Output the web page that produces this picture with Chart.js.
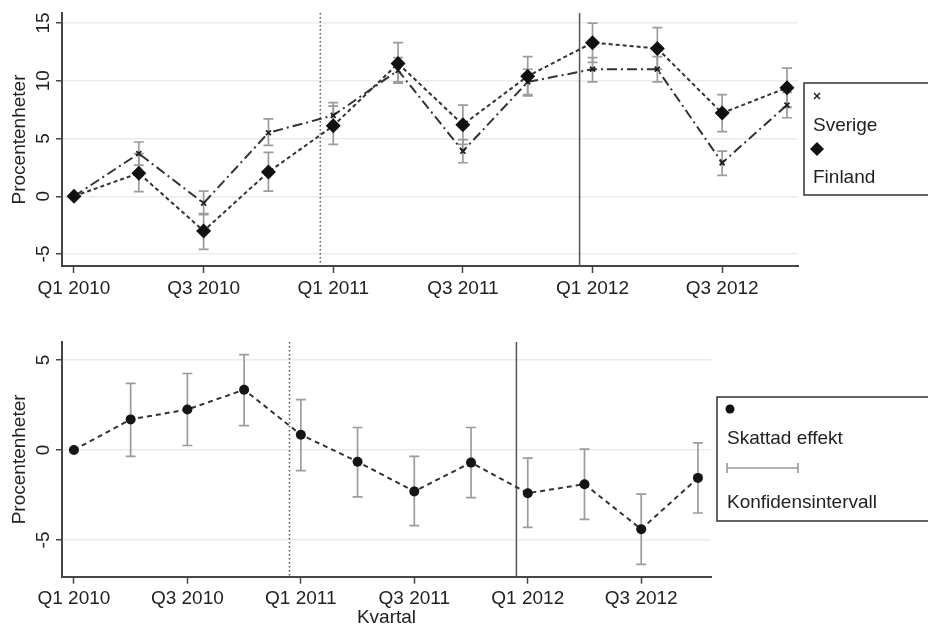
<!DOCTYPE html>
<html lang="sv">
<head>
    <meta charset="UTF-8">
    <meta name="viewport" content="width=device-width, initial-scale=1.0">
    <title>Procentenheter per kvartal</title>
    <script src="https://cdn.jsdelivr.net/npm/chart.js"></script>
    <style>
        body { margin: 0; background: #fff; }
        .wrap { position: relative; width: 928px; height: 625px; overflow: hidden; }
        #topChart { position: absolute; left: 0; top: 0; }
        #bottomChart { position: absolute; left: 0; top: 320px; }
    </style>
</head>
<body>
    <div class="wrap">
        <canvas id="topChart" width="928" height="320"></canvas>
        <canvas id="bottomChart" width="928" height="305"></canvas>
    </div>

    <script>
        const quarters = ['Q1 2010', 'Q2 2010', 'Q3 2010', 'Q4 2010', 'Q1 2011', 'Q2 2011',
                          'Q3 2011', 'Q4 2011', 'Q1 2012', 'Q2 2012', 'Q3 2012', 'Q4 2012'];
        const labelledQuarters = [0, 2, 4, 6, 8, 10];

        const sverige   = [0, 3.7, -0.6, 5.5, 7.0, 10.9, 3.9, 9.9, 11.0, 11.0, 2.9, 7.9];
        const sverigeLo = [null, 2.7, -1.6, 4.4, 5.9, 9.8, 2.9, 8.8, 9.9, 9.9, 1.8, 6.8];
        const sverigeHi = [null, 4.7, 0.45, 6.7, 8.1, 12.0, 4.9, 11.0, 12.0, 12.1, 3.9, 9.0];

        const finland   = [0, 2.0, -3.0, 2.1, 6.1, 11.5, 6.2, 10.4, 13.3, 12.8, 7.2, 9.4];
        const finlandLo = [null, 0.4, -4.6, 0.45, 4.5, 9.9, 4.5, 8.7, 11.6, 11.0, 5.6, 7.7];
        const finlandHi = [null, 3.7, -1.5, 3.8, 7.8, 13.3, 7.9, 12.1, 15.0, 14.6, 8.8, 11.1];

        const effekt   = [0, 1.7, 2.25, 3.35, 0.85, -0.65, -2.3, -0.7, -2.4, -1.9, -4.4, -1.55];
        const effektLo = [null, -0.35, 0.25, 1.35, -1.15, -2.6, -4.2, -2.65, -4.3, -3.85, -6.35, -3.5];
        const effektHi = [null, 3.7, 4.25, 5.3, 2.8, 1.25, -0.35, 1.25, -0.45, 0.05, -2.45, 0.4];

        const topYTicks = [-5, 0, 5, 10, 15];
        const bottomYTicks = [-5, 0, 5];
        const dottedLineAt = 3.8;   // Q4 2010 / Q1 2011
        const solidLineAt = 7.8;    // Q4 2011 / Q1 2012

        const FONT = "'Liberation Sans', Arial, sans-serif";
        const FONT_SIZE = 19;
        const TEXT = '#222';
        const AXIS = '#454545';
        const CI_GREY = '#9c9c9c';

        const toPoints = arr => arr.map((v, i) => ({ x: i, y: v }));

        // confidence intervals as capped vertical bars
        const errorBars = {
            id: 'errorBars',
            beforeDatasetsDraw(chart) {
                const { ctx, scales: { x, y } } = chart;
                ctx.save();
                ctx.strokeStyle = CI_GREY;
                ctx.lineWidth = 1.7;
                chart.data.datasets.forEach(ds => {
                    if (!ds.lo) return;
                    ds.lo.forEach((lo, i) => {
                        if (lo == null) return;
                        const px = x.getPixelForValue(i);
                        const top = y.getPixelForValue(ds.hi[i]);
                        const bot = y.getPixelForValue(lo);
                        ctx.beginPath();
                        ctx.moveTo(px, top); ctx.lineTo(px, bot);
                        ctx.moveTo(px - 5, top); ctx.lineTo(px + 5, top);
                        ctx.moveTo(px - 5, bot); ctx.lineTo(px + 5, bot);
                        ctx.stroke();
                    });
                });
                ctx.restore();
            }
        };

        // period markers
        const periodLines = {
            id: 'periodLines',
            beforeDatasetsDraw(chart) {
                const { ctx, chartArea: a, scales: { x } } = chart;
                ctx.save();
                ctx.strokeStyle = '#555';
                ctx.lineWidth = 1.5;
                ctx.setLineDash([1.5, 2.5]);
                let px = x.getPixelForValue(dottedLineAt);
                ctx.beginPath(); ctx.moveTo(px, a.top); ctx.lineTo(px, a.bottom); ctx.stroke();
                ctx.setLineDash([]);
                px = x.getPixelForValue(solidLineAt);
                ctx.beginPath(); ctx.moveTo(px, a.top); ctx.lineTo(px, a.bottom); ctx.stroke();
                ctx.restore();
            }
        };

        // rotated y tick labels, axis titles
        const axisText = {
            id: 'axisText',
            afterDraw(chart, args, opts) {
                const { ctx, chartArea: a, scales: { y } } = chart;
                ctx.save();
                ctx.fillStyle = TEXT;
                ctx.font = FONT_SIZE + 'px ' + FONT;
                ctx.textAlign = 'center';
                ctx.textBaseline = 'middle';
                y.ticks.forEach(t => {
                    ctx.save();
                    ctx.translate(44, y.getPixelForValue(t.value));
                    ctx.rotate(-Math.PI / 2);
                    ctx.fillText(String(t.value), 0, 0);
                    ctx.restore();
                });
                ctx.save();
                ctx.translate(20, (a.top + a.bottom) / 2);
                ctx.rotate(-Math.PI / 2);
                ctx.fillText('Procentenheter', 0, 0);
                ctx.restore();
                if (opts.xTitle) {
                    ctx.textBaseline = 'alphabetic';
                    ctx.fillText(opts.xTitle, (a.left + a.right) / 2, opts.xTitleY);
                }
                ctx.restore();
            }
        };

        function drawDiamond(ctx, cx, cy, r) {
            ctx.beginPath();
            ctx.moveTo(cx, cy - r); ctx.lineTo(cx + r, cy);
            ctx.lineTo(cx, cy + r); ctx.lineTo(cx - r, cy);
            ctx.closePath(); ctx.fill();
        }

        // legend boxes to the right of each plot
        const sideLegend = {
            id: 'sideLegend',
            afterDraw(chart, args, opts) {
                const ctx = chart.ctx;
                const b = opts.box;
                ctx.save();
                ctx.strokeStyle = '#333';
                ctx.lineWidth = 1.5;
                ctx.strokeRect(b[0], b[1], b[2], b[3]);
                ctx.fillStyle = TEXT;
                ctx.font = FONT_SIZE + 'px ' + FONT;
                ctx.textAlign = 'left';
                ctx.textBaseline = 'middle';
                opts.items.forEach(it => {
                    ctx.save();
                    if (it.kind === 'cross') {
                        ctx.strokeStyle = '#222'; ctx.lineWidth = 1.5;
                        ctx.beginPath();
                        ctx.moveTo(it.mx - 3, it.my - 3); ctx.lineTo(it.mx + 3, it.my + 3);
                        ctx.moveTo(it.mx - 3, it.my + 3); ctx.lineTo(it.mx + 3, it.my - 3);
                        ctx.stroke();
                    } else if (it.kind === 'diamond') {
                        ctx.fillStyle = '#111';
                        drawDiamond(ctx, it.mx, it.my, 7);
                    } else if (it.kind === 'dot') {
                        ctx.fillStyle = '#111';
                        ctx.beginPath(); ctx.arc(it.mx, it.my, 4.5, 0, Math.PI * 2); ctx.fill();
                    } else if (it.kind === 'cap') {
                        ctx.strokeStyle = CI_GREY; ctx.lineWidth = 1.7;
                        ctx.beginPath();
                        ctx.moveTo(it.mx, it.my); ctx.lineTo(it.mx2, it.my);
                        ctx.moveTo(it.mx, it.my - 5); ctx.lineTo(it.mx, it.my + 5);
                        ctx.moveTo(it.mx2, it.my - 5); ctx.lineTo(it.mx2, it.my + 5);
                        ctx.stroke();
                    }
                    ctx.restore();
                    ctx.fillText(it.label, it.tx, it.ty);
                });
                ctx.restore();
            }
        };

        function makeChart(id, cfg) {
            return new Chart(document.getElementById(id), {
                type: 'line',
                data: { datasets: cfg.datasets },
                options: {
                    responsive: false,
                    animation: false,
                    events: [],
                    devicePixelRatio: 1,
                    layout: { padding: { left: 0, top: cfg.padTop, right: cfg.padRight, bottom: 0 } },
                    scales: {
                        x: {
                            type: 'linear',
                            min: cfg.xMin,
                            max: cfg.xMax,
                            afterBuildTicks: s => { s.ticks = labelledQuarters.map(v => ({ value: v })); },
                            afterFit: s => { s.height = cfg.xHeight; },
                            ticks: {
                                callback: v => quarters[v],
                                autoSkip: false,
                                maxRotation: 0,
                                padding: 4,
                                color: TEXT,
                                font: { family: FONT, size: FONT_SIZE }
                            },
                            grid: { drawOnChartArea: false, tickColor: AXIS, tickLength: 7, tickWidth: 1.5 },
                            border: { color: AXIS, width: 2 }
                        },
                        y: {
                            min: cfg.yMin,
                            max: cfg.yMax,
                            afterBuildTicks: s => { s.ticks = cfg.yTicks.map(v => ({ value: v })); },
                            afterFit: s => { s.width = 62; },
                            ticks: { display: false },
                            grid: { color: '#ececec', lineWidth: 1.5, tickColor: AXIS, tickLength: 6, tickWidth: 1.5 },
                            border: { color: AXIS, width: 2 }
                        }
                    },
                    plugins: {
                        legend: { display: false },
                        tooltip: { enabled: false },
                        axisText: { xTitle: cfg.xTitle, xTitleY: cfg.xTitleY },
                        sideLegend: cfg.legend
                    }
                },
                plugins: [periodLines, errorBars, axisText, sideLegend]
            });
        }

        makeChart('topChart', {
            padTop: 13, padRight: 130, xHeight: 54,
            xMin: -0.185, xMax: 11.17, yMin: -6.04, yMax: 15.87, yTicks: topYTicks,
            datasets: [
                {
                    label: 'Finland',
                    data: toPoints(finland),
                    lo: finlandLo, hi: finlandHi,
                    order: 0,
                    borderColor: '#333', borderWidth: 2, borderDash: [4, 3],
                    pointStyle: 'rectRot', pointRadius: 7.5,
                    pointBackgroundColor: '#111', pointBorderColor: '#111', pointBorderWidth: 0,
                    tension: 0, fill: false
                },
                {
                    label: 'Sverige',
                    data: toPoints(sverige),
                    lo: sverigeLo, hi: sverigeHi,
                    order: 1,
                    borderColor: '#333', borderWidth: 2, borderDash: [10, 4, 2, 4],
                    pointStyle: 'crossRot', pointRadius: 3.5,
                    pointBorderColor: '#222', pointBorderWidth: 1.8,
                    tension: 0, fill: false
                }
            ],
            legend: {
                box: [804, 83, 140, 112],
                items: [
                    { kind: 'cross', mx: 817, my: 96, label: 'Sverige', tx: 813, ty: 126 },
                    { kind: 'diamond', mx: 817, my: 149, label: 'Finland', tx: 813, ty: 178 }
                ]
            }
        });

        makeChart('bottomChart', {
            padTop: 22, padRight: 217, xHeight: 48.3,
            xMin: -0.21, xMax: 11.23, yMin: -7.04, yMax: 6.0, yTicks: bottomYTicks,
            xTitle: 'Kvartal', xTitleY: 303,
            datasets: [
                {
                    label: 'Skattad effekt',
                    data: toPoints(effekt),
                    lo: effektLo, hi: effektHi,
                    borderColor: '#333', borderWidth: 2, borderDash: [5, 4],
                    pointStyle: 'circle', pointRadius: 5,
                    pointBackgroundColor: '#151515', pointBorderColor: '#151515', pointBorderWidth: 0,
                    tension: 0, fill: false
                }
            ],
            legend: {
                box: [717, 77, 230, 124],
                items: [
                    { kind: 'dot', mx: 730, my: 89, label: 'Skattad effekt', tx: 727, ty: 119 },
                    { kind: 'cap', mx: 727, mx2: 798, my: 148, label: 'Konfidensintervall', tx: 727, ty: 183 }
                ]
            }
        });
    </script>
</body>
</html>
